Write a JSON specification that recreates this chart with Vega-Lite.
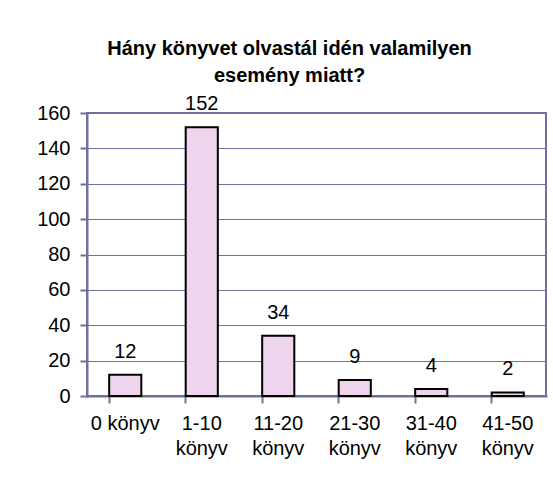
{
  "$schema": "https://vega.github.io/schema/vega-lite/v6.json",
  "width": 459,
  "height": 283,
  "autosize": {"type": "none"},
  "padding": {"left": 87, "top": 113, "right": 7, "bottom": 83},
  "background": "white",
  "title": {
    "text": ["Hány könyvet olvastál idén valamilyen", "esemény miatt?"],
    "font": "Liberation Sans",
    "fontSize": 20,
    "fontWeight": "bold",
    "color": "black",
    "lineHeight": 27,
    "anchor": "middle",
    "frame": "group",
    "dx": -27,
    "offset": 8
  },
  "data": {
    "values": [
      {"kategoria": "0 könyv", "db": 12},
      {"kategoria": "1-10 könyv", "db": 152},
      {"kategoria": "11-20 könyv", "db": 34},
      {"kategoria": "21-30 könyv", "db": 9},
      {"kategoria": "31-40 könyv", "db": 4},
      {"kategoria": "41-50 könyv", "db": 2}
    ]
  },
  "encoding": {
    "x": {
      "field": "kategoria",
      "type": "nominal",
      "sort": null,
      "scale": {"paddingInner": 0.58, "paddingOuter": 0.29},
      "axis": {
        "title": null,
        "labelAngle": 0,
        "labelFont": "Liberation Sans",
        "labelFontSize": 20,
        "labelColor": "black",
        "labelLineHeight": 25,
        "labelPadding": 10,
        "labelBaseline": "top",
        "labelExpr": "datum.value == '0 könyv' ? datum.value : split(datum.value, ' ')",
        "bandPosition": 0,
        "tickSize": 7,
        "tickWidth": 2,
        "tickColor": "#7070a0",
        "domainColor": "#7070a0",
        "domainWidth": 2,
        "grid": false
      }
    },
    "y": {
      "field": "db",
      "type": "quantitative",
      "scale": {"domain": [0, 160], "nice": false},
      "axis": {
        "title": null,
        "values": [0, 20, 40, 60, 80, 100, 120, 140, 160],
        "labelFont": "Liberation Sans",
        "labelFontSize": 20,
        "labelColor": "black",
        "labelPadding": 10,
        "tickSize": 7,
        "tickWidth": 2,
        "tickColor": "#7070a0",
        "domainColor": "#7070a0",
        "domainWidth": 2,
        "grid": true,
        "gridColor": "#7070a0",
        "gridWidth": 1,
        "gridOpacity": 1
      }
    }
  },
  "layer": [
    {
      "mark": {"type": "bar", "fill": "#eed4ec", "stroke": "black", "strokeWidth": 2}
    },
    {
      "mark": {"type": "text", "font": "Liberation Sans", "fontSize": 20, "color": "black", "baseline": "alphabetic", "dy": -17},
      "encoding": {"text": {"field": "db", "type": "quantitative"}}
    }
  ],
  "config": {
    "view": {"stroke": "#7070a0", "strokeWidth": 2},
    "axis": {"domainCap": "square"}
  }
}
